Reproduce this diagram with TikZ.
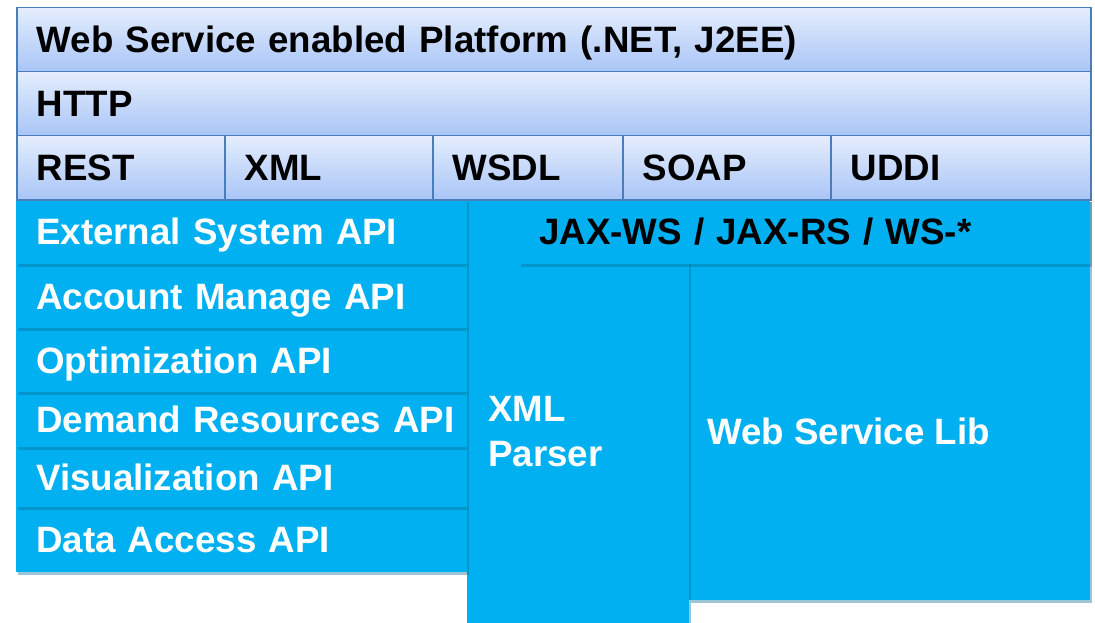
\documentclass[tikz,border=0pt]{standalone}
\usepackage{fontspec}
\setmainfont{Liberation Sans}
\usetikzlibrary{shadows}
\definecolor{cyanbox}{HTML}{00B0F0}
\definecolor{lighttop}{HTML}{E4EDFD}
\definecolor{lightbot}{HTML}{A9C5F7}
\definecolor{edgeblue}{HTML}{4A7EBB}
\definecolor{shadowcol}{HTML}{0A6E96}
\begin{document}
\begin{tikzpicture}[x=1pt,y=-1pt,
 every node/.style={font=\fontsize{36.7}{45}\selectfont\bfseries},
 bar/.style={draw=edgeblue, line width=1.5pt, top color=lighttop, bottom color=lightbot,
   anchor=north west, inner xsep=20pt, inner ysep=0pt, align=left, text=black,
   text height=26pt, text depth=0pt,
   drop shadow={shadow xshift=1.5pt, shadow yshift=-1.5pt, opacity=0.2, fill=black}},
 bluebox/.style={fill=cyanbox, draw=none, anchor=north west, inner xsep=20pt, inner ysep=0pt,
   align=left, text=white, text height=26pt, text depth=0pt,
   drop shadow={shadow xshift=2pt, shadow yshift=-3pt, opacity=0.4, fill=shadowcol}},
 apibox/.style={bluebox, minimum width=451pt, text width=411pt},
 freetext/.style={anchor=west, align=left, inner sep=0pt},
]
\useasboundingbox (0,0) rectangle (1095,623);
% blue area
\node[bluebox, minimum width=401pt, minimum height=401pt] (lib) at (689,199) {};
\node[bluebox, minimum width=222pt, minimum height=424pt] (parser) at (467,199) {};
\node[bluebox, minimum width=571pt, minimum height=65pt, text width=531pt, text=black] (jax) at (519,199) {JAX-WS / JAX-RS / WS-*};
\node[apibox, minimum height=65pt] (data) at (16,507) {Data Access API};
\node[apibox, minimum height=60pt] (vis) at (16,447) {Visualization API};
\node[apibox, minimum height=55pt] (demand) at (16,392) {\makebox[411pt][l]{Demand Resources API}};
\node[apibox, minimum height=64pt] (optim) at (16,328) {Optimization API};
\node[apibox, minimum height=64pt] (account) at (16,264) {Account Manage API};
\node[apibox, minimum height=65pt] (external) at (16,199) {External System API};
\node[freetext, text=white] (parsertext) at ([xshift=21pt]parser.west |- 0,432) {XML\\Parser};
\node[freetext, text=white] (libtext) at ([xshift=18pt]lib.west |- 0,431) {Web Service Lib};
% top bars
\node[bar, minimum width=1074pt, minimum height=64pt, text width=1034pt] (platform) at (16,7) {Web Service enabled Platform (.NET, J2EE)};
\node[bar, minimum width=1074pt, minimum height=64pt, text width=1034pt] (http) at (16,71) {HTTP};
\node[bar, minimum width=208pt, minimum height=64pt, text width=168pt] (rest) at (16,135) {REST};
\node[bar, minimum width=208pt, minimum height=64pt, text width=168pt] (xml) at (224,135) {XML};
\node[bar, minimum width=190pt, minimum height=64pt, text width=150pt] (wsdl) at (432,135) {WSDL};
\node[bar, minimum width=208pt, minimum height=64pt, text width=168pt] (soap) at (622,135) {SOAP};
\node[bar, minimum width=260pt, minimum height=64pt, text width=220pt] (uddi) at (830,135) {UDDI};
\end{tikzpicture}
\end{document}
